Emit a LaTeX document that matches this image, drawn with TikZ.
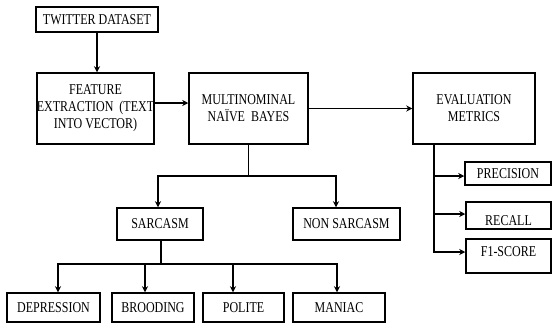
\documentclass[tikz,border=0pt]{standalone}
\usepackage{fontspec}
\setmainfont[FakeStretch=0.8]{Liberation Serif}
\usepackage{tikz}
\usetikzlibrary{arrows.meta}

\begin{document}
\begin{tikzpicture}[x=1pt, y=-1pt,
    box/.style={draw, line width=1.5pt, inner sep=0pt, align=center,
        font=\fontsize{15}{17}\selectfont},
    flow/.style={-{Stealth[length=6pt,width=6pt]}, line width=1.3pt}]
    \useasboundingbox (0,0) rectangle (552,325);

    \node[box, minimum width=122, minimum height=25] (twitter) at (97,19.5) {TWITTER DATASET};
    \node[box, minimum width=117, minimum height=71] (feature) at (95.5,108.5) {FEATURE\\EXTRACTION~ (TEXT\\INTO VECTOR)};
    \node[box, minimum width=119, minimum height=71] (multi) at (248.5,108.5) {MULTINOMINAL\\NA\"IVE~ BAYES};
    \node[box, minimum width=122, minimum height=71] (eval) at (474,108.5) {EVALUATION\\METRICS};

    \node[box, minimum width=86, minimum height=32] (sarcasm) at (160,224) {SARCASM};
    \node[box, minimum width=107, minimum height=32] (nonsarc) at (346.5,224) {NON SARCASM};

    \node[box, minimum width=93, minimum height=29] (depression) at (53.5,307.5) {DEPRESSION};
    \node[box, minimum width=82, minimum height=29] (brooding) at (153,307.5) {BROODING};
    \node[box, minimum width=81, minimum height=29] (polite) at (243.5,307.5) {POLITE};
    \node[box, minimum width=92, minimum height=29] (maniac) at (339,307.5) {MANIAC};

    \node[box, minimum width=86, minimum height=23] (precision) at (508,173.5) {PRECISION};
    \node[box, minimum width=85, minimum height=27] (recall) at (508.5,215.5) {\raisebox{-5pt}[\height][\depth]{RECALL}};
    \node[box, minimum width=85, minimum height=34] (fscore) at (508.5,256) {\raisebox{4pt}[\height][\depth]{F1-SCORE}};

    \coordinate (mb) at (248.5,176);
    \coordinate (sb) at (161,264);
    \coordinate (eb) at ([xshift=-40pt]eval.south);

    \draw[flow] (twitter.south) -- (twitter.south |- feature.north);
    \draw[flow] ([yshift=5.5pt]feature.east) -- ([yshift=5.5pt]feature.east -| multi.west);
    \draw[flow] (multi.east) -- (eval.west);

    \draw[line width=1.3pt] (multi.south) -- (mb);
    \draw[flow] (mb) -| ([xshift=-2pt]sarcasm.north);
    \draw[flow] (mb) -| ([xshift=-10.5pt]nonsarc.north);

    \draw[line width=1.3pt] (sarcasm.south -| sb) -- (sb);
    \draw[flow] (sb) -| ([xshift=4.5pt]depression.north);
    \draw[flow] (sb) -| ([xshift=-8pt]brooding.north);
    \draw[flow] (sb) -| ([xshift=-10.5pt]polite.north);
    \draw[flow] (sb) -| ([xshift=-2pt]maniac.north);

    \draw[flow] (eb) |- ([yshift=-2.5pt]precision.west);
    \draw[flow] (eb) |- ([yshift=1.5pt]recall.west);
    \draw[flow] (eb) |- ([yshift=4pt]fscore.west);
\end{tikzpicture}
\end{document}
